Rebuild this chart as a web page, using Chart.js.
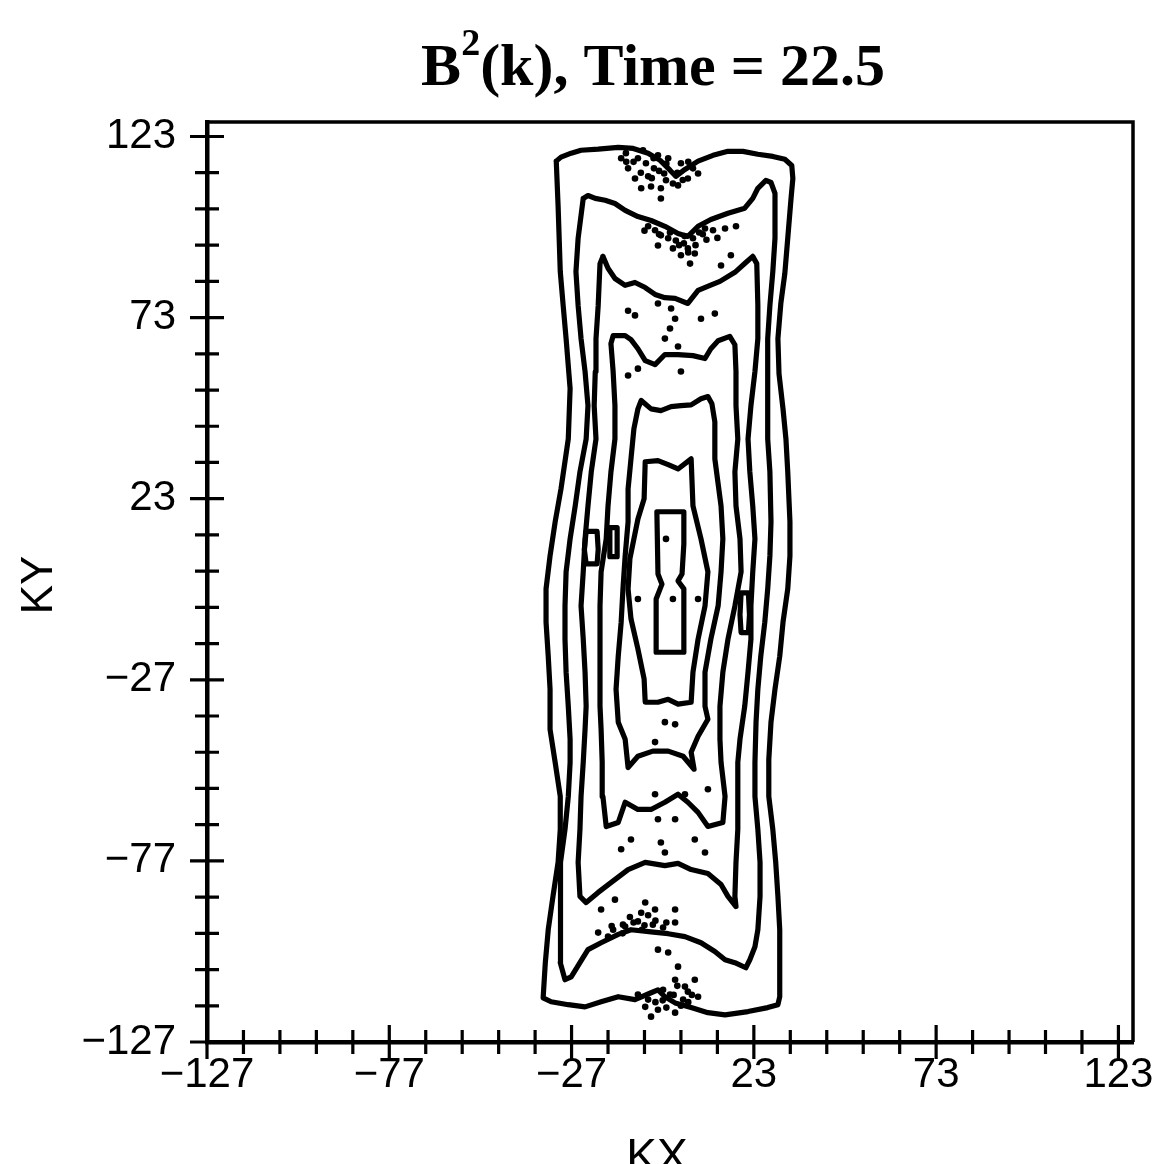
<!DOCTYPE html>
<html>
<head>
<meta charset="utf-8">
<title>B2(k), Time = 22.5</title>
<script src="https://cdn.jsdelivr.net/npm/chart.js@4.4.1/dist/chart.umd.min.js"></script>
<style>
  html, body { margin: 0; padding: 0; background: #fff; }
  #wrap { width: 1155px; height: 1164px; overflow: hidden; }
</style>
</head>
<body>
<div id="wrap"><canvas id="spectrum" width="1155" height="1164"></canvas></div>
<script>
// --- axis ticks ---
const majorTicks = [-127, -77, -27, 23, 73, 123];
const minorTicks = [-117, -107, -97, -87, -67, -57, -47, -37, -17, -7, 3, 13, 33, 43, 53, 63, 83, 93, 103, 113];

// --- contour levels, [kx, ky], outermost first ---
const level1 = [[-31.2,116.2],[-29.9,117.3],[-27.1,118.4],[-24.4,119.2],[-19.7,119.5],[-14.2,120.0],[-10.1,119.7],[-6.0,118.4],[-2.7,116.4],[0,113.7],[1.6,112.0],[4.1,113.9],[7.7,116.2],[11.8,117.8],[15.9,118.9],[20.0,118.9],[24.1,118.1],[28.2,117.5],[31.5,116.7],[33.4,115.0],[33.7,111.4],[33.2,105.9],[32.3,94.9],[31.5,85.2],[30.4,76.9],[29.6,67.2],[29.9,57.5],[31.0,47.8],[31.8,39.5],[32.3,30.4],[32.9,16.6],[32.9,7.2],[32.3,-1.9],[31.0,-11.1],[30.1,-20.5],[28.8,-29.6],[27.7,-38.7],[27.1,-49.0],[27.1,-59.2],[28.2,-68.3],[29.0,-77.4],[29.6,-86.8],[30.1,-96.0],[30.1,-105.1],[30.1,-114.5],[29.6,-116.7],[26.8,-117.5],[21.4,-118.6],[15.1,-119.5],[10.4,-118.9],[5.8,-117.5],[1.4,-116.2],[-1.4,-114.5],[-3.3,-112.6],[-5.2,-113.4],[-9.6,-115.3],[-14.2,-114.5],[-18.9,-115.9],[-23.3,-117.3],[-27.9,-116.7],[-32.6,-115.9],[-34.8,-114.8],[-34.2,-105.1],[-33.4,-96.0],[-32.1,-86.8],[-30.7,-77.4],[-30.1,-68.3],[-30.1,-59.2],[-31.5,-49.8],[-32.9,-40.7],[-32.9,-29.6],[-33.4,-20.5],[-34.0,-11.1],[-34.0,-1.9],[-32.9,7.2],[-31.5,16.6],[-29.9,25.7],[-27.9,39.5],[-27.4,53.4],[-28.5,67.2],[-29.3,76.3],[-30.1,85.7],[-30.7,104.0]];

const level2 = [[-23.8,105.9],[-22.5,106.7],[-20.5,105.9],[-17.8,105.4],[-15.1,104.5],[-12.3,102.6],[-8.8,100.9],[-5.2,99.8],[-1.4,98.2],[2.2,96.2],[4.9,95.4],[7.7,98.2],[11.2,100.1],[15.9,101.8],[20.5,103.2],[22.7,105.9],[24.1,108.7],[26.3,110.9],[27.7,110.3],[28.8,107.3],[28.8,94.9],[28.2,85.7],[27.4,76.3],[26.8,67.2],[26.8,58.1],[26.8,48.7],[26.8,39.5],[27.4,30.4],[27.7,16.6],[27.4,7.2],[26.8,-1.9],[26.0,-11.1],[24.9,-20.5],[24.1,-29.6],[23.6,-38.7],[23.3,-49.8],[23.3,-59.2],[24.1,-68.3],[24.7,-77.4],[24.7,-86.8],[24.1,-96.0],[23.3,-100.7],[21.9,-104.3],[20.8,-106.5],[17.8,-105.1],[15.1,-104.3],[12.3,-102.0],[8.5,-99.6],[4.1,-97.9],[-0.5,-97.1],[-5.2,-96.6],[-10.7,-96.0],[-14.2,-97.3],[-18.9,-99.6],[-22.5,-101.5],[-24.7,-105.1],[-27.1,-109.0],[-28.8,-109.8],[-30.1,-105.1],[-30.1,-96.0],[-30.1,-86.8],[-29.9,-77.4],[-28.8,-68.3],[-27.9,-59.2],[-27.4,-49.8],[-27.4,-43.4],[-27.9,-34.3],[-28.5,-24.9],[-28.8,-15.8],[-28.8,-6.6],[-28.5,2.8],[-27.4,11.9],[-26.0,21.0],[-24.7,30.4],[-23.0,39.5],[-22.5,48.7],[-23.3,58.1],[-24.4,67.2],[-25.2,76.3],[-25.8,85.7],[-25.2,94.9]];

const level3 = [[-18.4,89.9],[-17.0,86.6],[-15.1,83.8],[-12.3,81.9],[-9.6,82.7],[-6.8,81.3],[-4.1,79.4],[-1.4,78.5],[1.4,78.3],[4.9,76.9],[7.7,80.5],[11.0,81.9],[13.7,83.0],[17.8,85.5],[20.8,88.2],[22.7,89.9],[23.8,87.9],[24.1,76.3],[24.1,67.2],[23.3,58.1],[22.2,48.7],[21.4,39.5],[21.9,30.4],[22.7,21.0],[23.3,11.9],[22.7,2.8],[22.2,-6.6],[22.2,-15.8],[21.4,-24.9],[20.5,-34.3],[19.2,-43.4],[18.6,-49.8],[18.6,-59.2],[18.6,-68.3],[18.1,-77.4],[17.8,-86.8],[18.1,-89.6],[15.9,-86.8],[14.0,-83.5],[10.4,-80.5],[5.8,-79.4],[2.2,-77.7],[-1.4,-78.3],[-6.8,-77.4],[-11.5,-79.4],[-16.2,-83.0],[-19.7,-85.7],[-23.0,-88.5],[-24.7,-86.8],[-25.2,-77.4],[-24.7,-68.3],[-24.4,-59.2],[-23.8,-49.8],[-23.3,-40.7],[-23.0,-34.3],[-23.3,-24.9],[-23.8,-15.8],[-24.4,-6.6],[-23.8,2.8],[-23.3,11.9],[-22.5,21.0],[-21.6,30.4],[-20.3,39.5],[-20.8,48.7],[-20.5,58.1],[-20.3,67.2],[-19.7,76.3],[-19.2,87.9]];

const level4 = [[-16.2,65.8],[-15.6,68.0],[-12.3,68.0],[-10.7,66.9],[-8.8,64.4],[-6.8,61.1],[-4.1,60.0],[-1.4,62.8],[2.2,62.8],[6.3,62.5],[9.6,61.7],[11.2,64.4],[13.2,66.6],[16.4,67.8],[17.8,65.5],[18.1,58.1],[18.1,48.7],[18.6,39.5],[17.8,30.4],[18.1,21.0],[19.2,11.9],[19.5,2.8],[17.8,-6.6],[15.9,-15.8],[14.5,-24.9],[13.7,-34.3],[13.7,-43.4],[14.0,-49.8],[15.1,-59.2],[14.5,-66.4],[10.4,-67.5],[7.7,-63.6],[4.9,-60.8],[2.2,-58.6],[-1.4,-60.8],[-5.2,-62.8],[-8.8,-62.8],[-12.3,-60.8],[-14.2,-66.4],[-17.5,-67.5],[-18.4,-59.2],[-18.6,-49.8],[-18.9,-40.7],[-19.2,-34.3],[-19.2,-24.9],[-19.2,-15.8],[-19.2,-6.6],[-18.9,2.8],[-17.5,11.9],[-17.0,21.0],[-16.2,30.4],[-15.1,39.5],[-15.1,48.7],[-15.6,58.1]];

const level5 = [[-8.8,47.8],[-7.9,50.1],[-5.2,47.8],[-2.5,47.3],[0.3,48.4],[3.0,48.7],[5.8,48.9],[8.5,50.6],[10.4,51.2],[11.5,49.2],[12.3,44.2],[12.3,34.0],[14.0,21.0],[14.5,11.9],[14.0,2.8],[13.2,-6.6],[11.2,-15.8],[9.6,-24.9],[9.6,-34.3],[10.4,-37.9],[7.7,-42.6],[5.8,-47.0],[6.6,-51.7],[3.6,-48.1],[-0.5,-46.7],[-4.7,-46.7],[-8.8,-48.1],[-11.5,-51.2],[-12.3,-43.4],[-14.2,-38.7],[-14.8,-29.6],[-14.2,-20.5],[-13.4,-11.1],[-12.9,-1.9],[-12.3,7.2],[-11.5,16.6],[-11.5,25.7],[-10.7,34.0],[-9.9,42.3]];

const level6 = [[-6.8,33.2],[-3.3,33.5],[-0.5,32.4],[2.2,31.2],[5.8,34.0],[6.3,21.0],[8.5,11.9],[10.4,2.8],[9.6,-6.6],[7.7,-15.8],[6.3,-24.9],[5.8,-33.2],[2.2,-33.7],[-0.5,-32.4],[-3.3,-33.2],[-6.8,-33.2],[-7.1,-26.8],[-8.8,-18.5],[-10.7,-10.2],[-11.5,-1.9],[-11.0,6.4],[-8.8,17.4],[-7.1,23.0]];

const level7 = [[-3.6,19.4],[3.8,19.4],[3.8,10.5],[3.3,2.2],[2.2,0.3],[3.8,-1.9],[3.8,-19.4],[-3.8,-19.4],[-3.8,-4.7],[-2.2,-0.6],[-3.3,2.2]];

// small closed islands
const islandA = [[-23.0,14.0],[-20.0,14.0],[-19.7,9.0],[-20.0,5.0],[-23.0,5.0],[-23.5,9.0]];
const islandB = [[-16.5,15.0],[-14.5,15.0],[-14.5,7.0],[-16.5,7.0]];
const islandC = [[19.5,-3.0],[21.5,-3.0],[21.8,-9.0],[21.5,-14.0],[19.5,-14.0],[19.2,-9.0]];

// isolated specks of the field
const specks = [[-13.4,117.0],[-11.5,114.2],[-9.6,111.4],[-7.9,108.7],[-5.2,109.2],[-2.5,108.7],[-2.5,105.9],[2.2,109.5],[-8.8,117.0],[-6.6,115.6],[-4.4,114.2],[-1.6,112.8],[4.9,111.4],[6.3,114.2],[7.7,112.8],[-3.3,117.8],[-0.5,117.0],[3.0,115.6],[-12.1,118.4],[-7.4,119.2],[0.8,110.0],[-1.1,110.9],
  [-10,116],[-8,113],[-5,111.5],[-3,113.5],[-1,115.5],[2,113],[3.5,111],[5,116],[-6,112],[-12,116],[-4.5,117],
  [-2.5,95.7],[-3.3,92.9],[3.0,90.2],[5.5,87.9],[6.8,90.7],[14.0,87.4],[16.7,90.2],[18.1,98.2],[15.1,97.6],[9.6,97.6],[-6.0,98.2],[-4.1,97.1],[-0.5,94.9],[1.6,94.3],[3.8,93.5],[6.3,94.9],[9.0,96.0],[11.8,97.1],[4.9,92.1],[0.8,92.1],
  [-7,97],[-3,96],[0,96.5],[2.5,93],[4,95.5],[7,93],[10,94.5],[13,95],[5,91],[8,96.5],
  [-11.5,74.9],[-9.6,73.6],[0.3,75.5],[1.4,72.7],[8.5,72.7],[12.3,74.1],[-1.4,67.2],[2.2,65.0],[-11.5,57.0],[-8.8,58.9],[3.0,58.1],[0,70.0],[-3.3,76.9],
  [-1.1,11.9],[0.8,-4.7],[-8.8,-4.7],[7.7,-4.7],
  [-1.4,-38.7],[1.4,-39.3],[-4.1,-44.2],[10.4,-57.2],[-4.1,-58.6],[4.1,-58.6],[1.4,-65.5],[-3.3,-65.5],[-10.7,-71.1],[-13.4,-73.8],[-2.5,-71.9],[-1.4,-74.7],[6.8,-71.1],[9.6,-74.7],
  [-18.9,-90.4],[-15.1,-87.7],[-6.8,-88.5],[-7.9,-91.3],[-4.1,-90.4],[1.4,-90.4],[1.4,-94.0],[-19.7,-96.8],[-17.0,-97.9],[-12.3,-95.1],[-15.6,-96.0],[-12.9,-94.6],[-8.8,-93.7],[-4.7,-94.6],[-1.9,-95.4],[-7.7,-96.0],
  [-16,-95],[-13,-97],[-10,-94],[-7,-94.8],[-4,-93.5],[-1,-94],[-11,-92.5],[-6,-92],
  [-3.3,-101.5],[-0.5,-102.3],[2.2,-106.2],[1.4,-109.8],[6.8,-109.8],[4.1,-111.7],[7.7,-114.5],[-6.8,-117.3],[-3.3,-118.1],[1.4,-118.9],[-5.2,-120.0],[-1.9,-112.6],[0,-113.9],[3.6,-115.3],[4.9,-113.1],[-6.0,-115.3],[-8.8,-113.9],
  [-4,-116],[-2,-115.5],[1,-114],[3,-117],[5,-116],[2,-111.5],[-1,-117.5],[6,-114]];

const contours = [level1, level2, level3, level4, level5, level6, level7, islandA, islandB, islandC];

function closed(path) {
    const pts = path.map(p => ({ x: p[0], y: p[1] }));
    pts.push({ x: path[0][0], y: path[0][1] });
    return pts;
}

const datasets = contours.map(c => ({
    data: closed(c),
    showLine: true,
    borderColor: '#000',
    borderWidth: 5.2,
    borderJoinStyle: 'round',
    borderCapStyle: 'round',
    pointRadius: 0,
    tension: 0,
    fill: false
}));

datasets.push({
    data: specks.map(p => ({ x: p[0], y: p[1] })),
    showLine: false,
    pointRadius: 3.3,
    pointBackgroundColor: '#000',
    pointBorderWidth: 0
});

const fmt = v => (v < 0 ? '\u2212' + (-v) : String(v));
const tickFont = { family: '"Liberation Sans", Arial, sans-serif', size: 42 };

// frame, crossing tick marks, title and axis names
const decorations = {
    id: 'decorations',
    afterDraw(chart) {
        const { ctx, chartArea: a, scales: { x, y } } = chart;
        ctx.save();
        ctx.strokeStyle = '#000';
        ctx.lineWidth = 3.5;
        ctx.beginPath();
        ctx.moveTo(a.left, a.top);
        ctx.lineTo(a.right, a.top);
        ctx.lineTo(a.right, a.bottom);
        ctx.stroke();

        ctx.lineWidth = 3.2;
        ctx.beginPath();
        const mark = (v, len) => {
            const px = x.getPixelForValue(v);
            ctx.moveTo(px, a.bottom - len);
            ctx.lineTo(px, a.bottom + len);
            const py = y.getPixelForValue(v);
            ctx.moveTo(a.left - len, py);
            ctx.lineTo(a.left + len, py);
        };
        majorTicks.forEach(v => mark(v, 17));
        minorTicks.forEach(v => mark(v, 12));
        ctx.stroke();

        // title: B^2(k), Time = 22.5
        ctx.fillStyle = '#000';
        ctx.textBaseline = 'alphabetic';
        ctx.textAlign = 'left';
        const big = 'bold 60px "Liberation Serif", "Times New Roman", serif';
        const sup = 'bold 38px "Liberation Serif", "Times New Roman", serif';
        ctx.font = big;
        const wB = ctx.measureText('B').width;
        const rest = '(k), Time = 22.5';
        const wRest = ctx.measureText(rest).width;
        ctx.font = sup;
        const w2 = ctx.measureText('2').width;
        let tx = 653 - (wB + w2 + wRest) / 2;
        ctx.font = big;
        ctx.fillText('B', tx, 85);
        tx += wB;
        ctx.font = sup;
        ctx.fillText('2', tx, 55);
        tx += w2;
        ctx.font = big;
        ctx.fillText(rest, tx, 85);

        // axis names
        ctx.font = '46px "Liberation Sans", Arial, sans-serif';
        ctx.textAlign = 'center';
        ctx.textBaseline = 'alphabetic';
        ctx.fillText('KX', 657, 1171);
        ctx.translate(52, 585);
        ctx.rotate(-Math.PI / 2);
        ctx.font = '44px "Liberation Sans", Arial, sans-serif';
        ctx.fillText('KY', 0, 0);
        ctx.restore();
    }
};

new Chart(document.getElementById('spectrum'), {
    type: 'scatter',
    data: { datasets },
    options: {
        responsive: false,
        animation: false,
        devicePixelRatio: 1,
        layout: { padding: { top: 122, right: 22, left: 0, bottom: 0 } },
        plugins: {
            legend: { display: false },
            tooltip: { enabled: false },
            title: { display: false }
        },
        scales: {
            x: {
                type: 'linear',
                min: -127,
                max: 127,
                afterFit: s => { s.height = 122; s.paddingLeft = 0; s.paddingRight = 0; },
                afterBuildTicks: s => { s.ticks = majorTicks.map(v => ({ value: v })); },
                grid: { display: false, drawTicks: false },
                border: { display: true, color: '#000', width: 4.5 },
                ticks: { padding: 8, color: '#000', font: tickFont, callback: fmt, autoSkip: false, maxRotation: 0 }
            },
            y: {
                type: 'linear',
                min: -127,
                max: 127,
                afterFit: s => { s.width = 207; s.paddingTop = 0; s.paddingBottom = 0; },
                afterBuildTicks: s => { s.ticks = majorTicks.map(v => ({ value: v })); },
                grid: { display: false, drawTicks: false },
                border: { display: true, color: '#000', width: 4.5 },
                ticks: { padding: 31, color: '#000', font: tickFont, callback: fmt, autoSkip: false }
            }
        }
    },
    plugins: [decorations]
});
</script>
</body>
</html>
